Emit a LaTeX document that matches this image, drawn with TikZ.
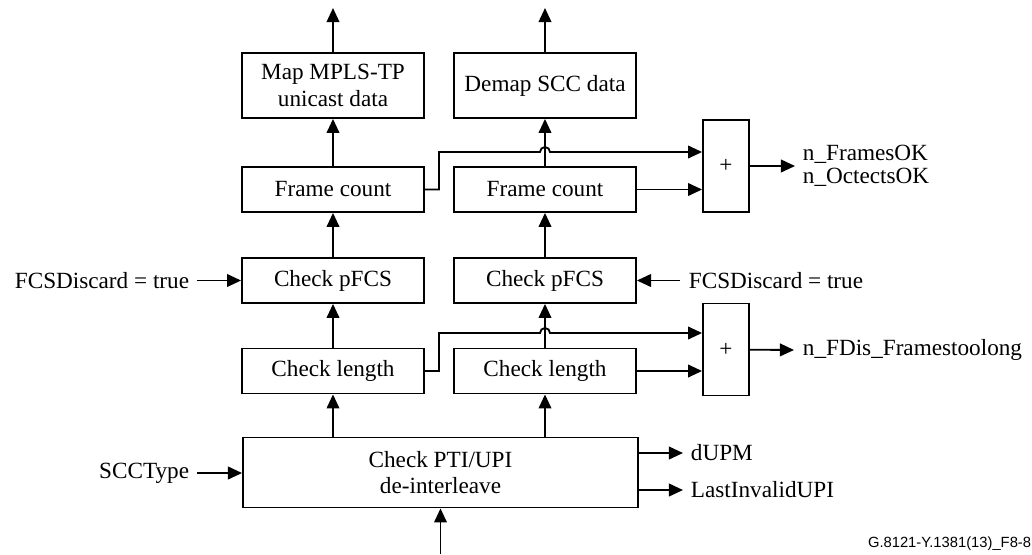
\documentclass[tikz,border=0pt]{standalone}
\usepackage{fontspec}
\setmainfont{Liberation Serif}
\newfontfamily\idfont{Liberation Sans}
\usetikzlibrary{arrows.meta, positioning}

\tikzset{
	blk/.style={draw, line width=1.3pt, align=center, inner sep=0pt,
		minimum width=4.55cm, minimum height=1.125cm},
	sumbox/.style={draw, line width=1.3pt, inner sep=0pt,
		minimum width=1.15cm, minimum height=2.3cm},
	lbl/.style={inner sep=0pt, align=left},
}

\begin{document}
\begin{tikzpicture}[->,
				>={Triangle[length=10pt,width=9pt]},
				line width=1.3pt,
				x=0.025cm, y=-0.025cm,
				font=\fontsize{16.5}{19}\selectfont]
				\useasboundingbox (0,0) rectangle (1032,554);
				% column of boxes
				\node at (333,85.5) (map) [blk, minimum height=1.625cm] {Map MPLS-TP\\unicast data};
				\node at (545,85.5) (demap) [blk, minimum height=1.625cm] {Demap SCC data};
				\node at (333,189.5) (fcl) [blk] {Frame count};
				\node at (545,189.5) (fcr) [blk] {Frame count};
				\node at (333,280.5) (pfl) [blk] {Check pFCS};
				\node at (545,280.5) (pfr) [blk] {Check pFCS};
				\node at (333,371) (cll) [blk] {Check length};
				\node at (545,371) (clr) [blk] {Check length};
				\node at (440.5,472.5) (pti) [blk, minimum width=9.875cm, minimum height=1.75cm] {Check PTI/UPI\\de-interleave};
				\node at (726,166) (sumok) [sumbox] {+};
				\node at (726,349.5) (sumdis) [sumbox] {+};
				% labels
				\node at (190,280.5) (fcsl) [lbl, anchor=east] {FCSDiscard = true};
				\node at (688,280.5) (fcsr) [lbl, anchor=west] {FCSDiscard = true};
				\node at (190,473) (scc) [lbl, anchor=east] {SCCType};
				\node at (690,453) (dupm) [lbl, anchor=west] {dUPM};
				\node at (690,490) (lastupi) [lbl, anchor=west] {LastInvalidUPI};
				\node at (802,166) (okcnt) [lbl, anchor=west, font=\fontsize{16.5}{16.5}\selectfont] {n\_FramesOK\\n\_OctectsOK};
				\node at (802,350) (discnt) [lbl, anchor=west] {n\_FDis\_Framestoolong};
				\node at (1032,544) (figid) [lbl, anchor=east, font=\idfont\fontsize{10.5}{11}\selectfont] {G.8121-Y.1381(13)\_F8-8};
				% free ends
				\coordinate (outl) at (333,8);
				\coordinate (outr) at (545,8);
				\coordinate (inp) at (440.5,554);
				\coordinate (jok) at (439,152);
				\coordinate (hok) at (540,152);
				\coordinate (jdis) at (439,333);
				\coordinate (hdis) at (540,333);
				% data path
				\draw (map) -- (outl);
				\draw (demap) -- (outr);
				\draw (fcl) -- (map);
				\draw (fcr) -- (demap);
				\draw (pfl) -- (fcl);
				\draw (pfr) -- (fcr);
				\draw (cll) -- (pfl);
				\draw (clr) -- (pfr);
				\draw (pti.north -| cll) -- (cll);
				\draw (pti.north -| clr) -- (clr);
				\draw (inp) -- (pti);
				% counters
				\draw (fcl.east) -- (fcl.east -| jok) -- (jok) -- (hok) arc[start angle=180, end angle=0, radius=0.125cm] -- (sumok.west |- jok);
				\draw (fcr) -- (sumok.west |- fcr);
				\draw (cll.east) -- (cll.east -| jdis) -- (jdis) -- (hdis) arc[start angle=180, end angle=0, radius=0.125cm] -- (sumdis.west |- jdis);
				\draw (clr) -- (sumdis.west |- clr);
				\draw (sumok) -- ([xshift=-0.175cm]okcnt.west);
				\draw (sumdis) -- ([xshift=-0.2cm]discnt.west);
				% side inputs and outputs
				\draw ([xshift=0.175cm]fcsl.east) -- (pfl);
				\draw ([xshift=-0.2cm]fcsr.west) -- (pfr);
				\draw ([xshift=0.175cm]scc.east) -- (scc.east -| pti.west);
				\draw (pti.east |- dupm) -- ([xshift=-0.175cm]dupm.west);
				\draw (pti.east |- lastupi) -- ([xshift=-0.175cm]lastupi.west);
			\end{tikzpicture}
\end{document}
